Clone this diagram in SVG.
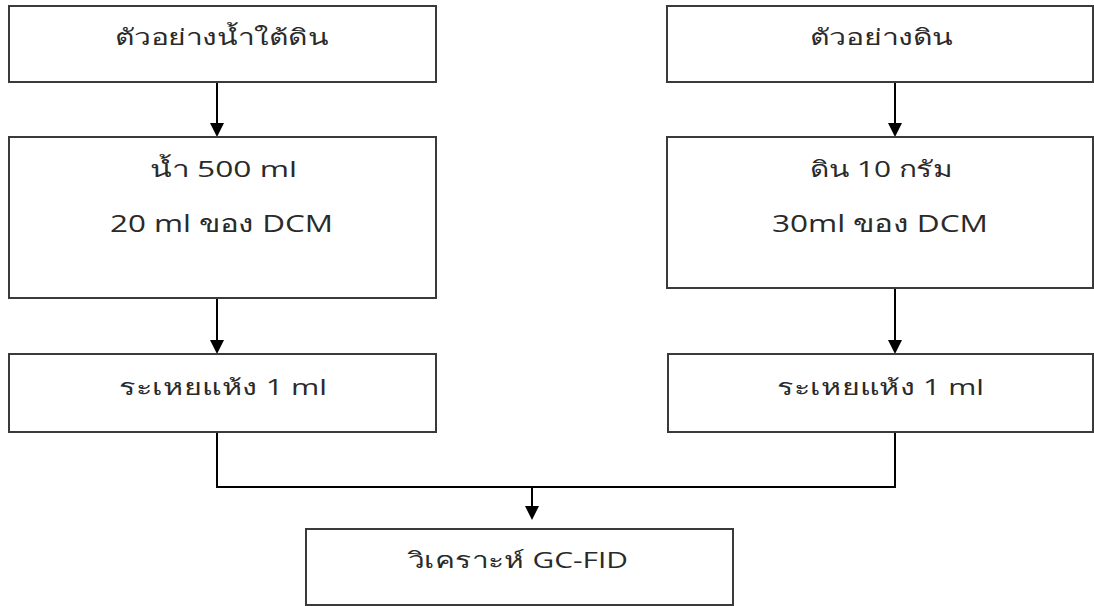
<svg xmlns="http://www.w3.org/2000/svg" width="1094" height="606" viewBox="0 0 1094 606">
<defs>
<style>
.box{fill:#fff;stroke:#3a3a3a;stroke-width:2}
.t{font-family:"Open Sans","Noto Sans","DejaVu Sans",sans-serif;font-size:22px;fill:#2a2a2a}
.b{font-size:24px}
.c{fill:none;stroke:#000;stroke-width:2}
.h{fill:#000}
</style>
</defs>
<rect width="1094" height="606" fill="#fff"/>
<g id="connectors">
<path class="c" d="M217,82 V123"/>
<path class="h" d="M210,123 L224,123 L217,137 Z"/>
<path class="c" d="M895,82 V123"/>
<path class="h" d="M888,123 L902,123 L895,137 Z"/>
<path class="c" d="M217,298 V340"/>
<path class="h" d="M210,340 L224,340 L217,354 Z"/>
<path class="c" d="M895,288 V340"/>
<path class="h" d="M888,340 L902,340 L895,354 Z"/>
<path class="c" d="M217,432 V487 H895 V432"/>
<path class="c" d="M532,487 V506"/>
<path class="h" d="M525,506 L539,506 L532,520 Z"/>
</g>
<g id="n1">
<rect class="box" x="9" y="6" width="427" height="76"/>
<text class="t" x="115" y="45" textLength="213" lengthAdjust="spacingAndGlyphs">ตัวอย่างน้ำใต้ดิน</text>
</g>
<g id="n2">
<rect class="box" x="667" y="6" width="426" height="76"/>
<text class="t" x="810" y="45" textLength="143" lengthAdjust="spacingAndGlyphs">ตัวอย่างดิน</text>
</g>
<g id="n3">
<rect class="box" x="9" y="137" width="427" height="161"/>
<text class="t" x="150" y="177" textLength="147" lengthAdjust="spacingAndGlyphs">น้ำ 500 ml</text>
<text class="t b" x="110" y="232" textLength="223" lengthAdjust="spacingAndGlyphs">20 ml ของ DCM</text>
</g>
<g id="n4">
<rect class="box" x="667" y="137" width="426" height="151"/>
<text class="t" x="810" y="177" textLength="143" lengthAdjust="spacingAndGlyphs">ดิน 10 กรัม</text>
<text class="t b" x="772" y="232" textLength="216" lengthAdjust="spacingAndGlyphs">30ml ของ DCM</text>
</g>
<g id="n5">
<rect class="box" x="9" y="354" width="427" height="78"/>
<text class="t" x="119" y="395" textLength="208" lengthAdjust="spacingAndGlyphs">ระเหยแห้ง 1 ml</text>
</g>
<g id="n6">
<rect class="box" x="668" y="354" width="425" height="78"/>
<text class="t" x="777" y="395" textLength="207" lengthAdjust="spacingAndGlyphs">ระเหยแห้ง 1 ml</text>
</g>
<g id="n7">
<rect class="box" x="306" y="529" width="427" height="76"/>
<text class="t" x="408" y="568" textLength="220" lengthAdjust="spacingAndGlyphs">วิเคราะห์ GC-FID</text>
</g>
</svg>
